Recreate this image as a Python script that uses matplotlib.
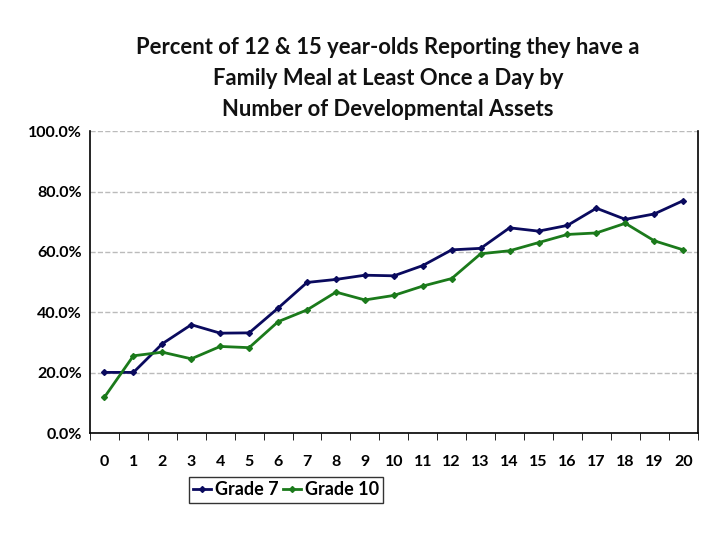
import matplotlib
matplotlib.use("Agg")
import matplotlib.pyplot as plt
import matplotlib.ticker as ticker

plt.rcParams['font.family'] = ['Lato', 'DejaVu Sans']

assets = list(range(21))
grade7 = [20.1, 20.1, 29.6, 35.9, 33.1, 33.2, 41.4, 49.9, 50.9, 52.3, 52.1,
          55.5, 60.7, 61.2, 68.0, 66.9, 68.8, 74.5, 70.8, 72.6, 77.0]
grade10 = [11.9, 25.6, 26.8, 24.6, 28.7, 28.3, 36.9, 40.8, 46.7, 44.1, 45.6,
           48.7, 51.2, 59.4, 60.4, 63.1, 65.8, 66.3, 69.5, 63.7, 60.7]
title = ("Percent of 12 & 15 year-olds Reporting they have a\n"
         "Family Meal at Least Once a Day by\n"
         "Number of Developmental Assets")

fig = plt.figure(figsize=(7.2, 5.4), dpi=100)
ax = fig.add_axes([0.125, 0.198, 0.844, 0.559])

ax.plot(assets, grade7, color='#0a0a5e', linewidth=2, marker='D', markersize=3, label='Grade 7')
ax.plot(assets, grade10, color='#1b7a1b', linewidth=2, marker='D', markersize=3, label='Grade 10')

ax.set_xlim(-0.5, 20.5)
ax.set_ylim(0, 100)
ax.yaxis.set_major_locator(ticker.MultipleLocator(20))
ax.yaxis.set_major_formatter(ticker.FuncFormatter(lambda v, p: f"{v:.1f}%"))
ax.set_xticks(assets)
ax.set_xticklabels([str(a) for a in assets])
ax.xaxis.set_minor_locator(ticker.FixedLocator([a - 0.5 for a in range(22)]))
ax.tick_params(axis='x', which='major', length=0, pad=16)
ax.tick_params(axis='x', which='minor', length=5, direction='out')
ax.tick_params(axis='y', length=0, pad=6)
for lab in ax.get_xticklabels() + ax.get_yticklabels():
    lab.set_fontsize(11.5)
    lab.set_fontweight('bold')

ax.grid(axis='y', linestyle='--', color='#bbbbbb', linewidth=1)
fig.canvas.draw()
ax.yaxis.get_gridlines()[-1].set_visible(False)  # no line at 100%
ax.spines['top'].set_visible(False)
for s in ['left', 'bottom', 'right']:
    ax.spines[s].set_linewidth(1.2)

fig.text(0.539, 0.855, title, ha='center', va='center', fontsize=15.8,
         fontweight='bold', linespacing=1.6, color='#111111')

leg = fig.legend(loc='center', bbox_to_anchor=(0.397, 0.093), ncol=2, frameon=True,
                 fancybox=False, edgecolor='black', handlelength=1.0,
                 handletextpad=0.2, columnspacing=0.25, borderpad=0.25,
                 prop={'size': 13, 'weight': 'bold'})
leg.get_frame().set_linewidth(1)

fig.savefig("out.png", dpi=100)
